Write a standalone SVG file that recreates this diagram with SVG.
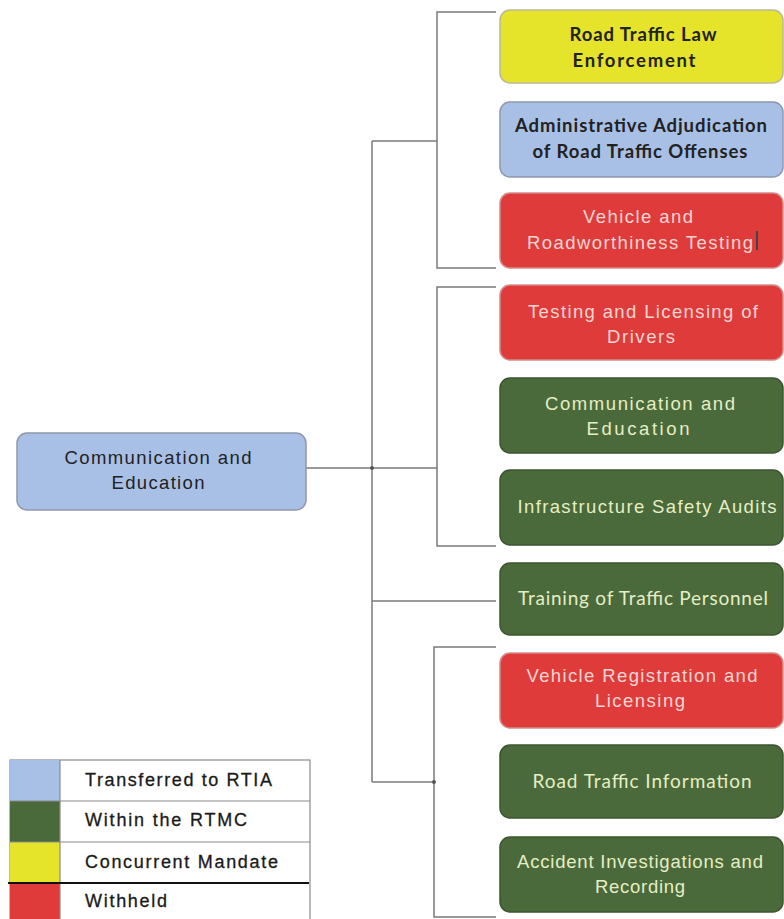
<svg xmlns="http://www.w3.org/2000/svg" width="784" height="919" viewBox="0 0 784 919">
  <style>
    .conn { fill: none; stroke: #7a7a7a; stroke-width: 1.5; }
    .dot { fill: #555; }
    .box { stroke-width: 1.5; }
    .yellow { fill: #e6e42a; stroke: #b9b99a; }
    .blue { fill: #a9c0e6; stroke: #8d98ad; }
    .red { fill: #e03b3b; stroke: #d58a8a; }
    .green { fill: #4a6a3b; stroke: #3c5530; }
    .t { font-family: "Liberation Sans", Arial, sans-serif; font-size: 18.5px; text-anchor: middle; }
    .h { font-family: Lato, "Open Sans", sans-serif; font-size: 18.5px; font-weight: bold; text-anchor: middle; }
    .hn { font-family: Lato, "Open Sans", sans-serif; font-size: 19px; font-weight: normal; text-anchor: middle; }
    .dark { fill: #222; }
    .onred { fill: #f6d6d2; }
    .ongreen { fill: #e6eec4; }
    .leg { font-family: "Liberation Sans", Arial, sans-serif; font-size: 18px; fill: #1a1a1a; stroke: #1a1a1a; stroke-width: 0.3; }
  </style>

  <!-- connectors -->
  <g id="connectors">
    <path class="conn" d="M306,468 H372"/>
    <path class="conn" d="M372,141 V782"/>
    <path class="conn" d="M372,141 H437"/>
    <path class="conn" d="M496,12 H437 V268 H496"/>
    <path class="conn" d="M372,468 H437"/>
    <path class="conn" d="M496,287 H437 V546 H496"/>
    <path class="conn" d="M372,601 H496"/>
    <path class="conn" d="M372,782 H434"/>
    <path class="conn" d="M496,647 H434 V917 H496"/>
    <circle class="dot" cx="372" cy="468" r="2"/>
    <circle class="dot" cx="434" cy="782" r="2"/>
  </g>

  <!-- root -->
  <g id="root">
    <rect class="box blue" x="17" y="433" width="289" height="77" rx="10"/>
    <text class="t dark" x="158" y="464" textLength="187" lengthAdjust="spacing">Communication and</text>
    <text class="t dark" x="158" y="489" textLength="93" lengthAdjust="spacing">Education</text>
  </g>

  <g id="law-enforcement">
    <rect class="box yellow" x="500" y="10" width="283" height="73" rx="10"/>
    <text class="h dark" x="643" y="41" textLength="147" lengthAdjust="spacing">Road Traffic Law</text>
    <text class="h dark" x="634" y="67" textLength="123" lengthAdjust="spacing">Enforcement</text>
  </g>

  <g id="adjudication">
    <rect class="box blue" x="500" y="102" width="283" height="75" rx="10"/>
    <text class="h dark" x="641" y="132" textLength="252" lengthAdjust="spacing">Administrative Adjudication</text>
    <text class="h dark" x="640" y="158" textLength="215" lengthAdjust="spacing">of  Road Traffic  Offenses</text>
  </g>

  <g id="roadworthiness">
    <rect class="box red" x="500" y="193" width="283" height="75" rx="10"/>
    <text class="t onred" x="638" y="223" textLength="110" lengthAdjust="spacing">Vehicle and</text>
    <text class="t onred" x="640" y="249" textLength="226" lengthAdjust="spacing">Roadworthiness Testing</text>
    <rect x="756" y="231" width="2" height="19" fill="#444"/>
  </g>

  <g id="driver-licensing">
    <rect class="box red" x="500" y="285" width="283" height="75" rx="10"/>
    <text class="t onred" x="643" y="318" textLength="230" lengthAdjust="spacing">Testing and Licensing of</text>
    <text class="t onred" x="641" y="343" textLength="68" lengthAdjust="spacing">Drivers</text>
  </g>

  <g id="communication">
    <rect class="box green" x="500" y="378" width="283" height="75" rx="10"/>
    <text class="t ongreen" x="640" y="410" textLength="190" lengthAdjust="spacing">Communication and</text>
    <text class="t ongreen" x="638" y="435" textLength="103" lengthAdjust="spacing">Education</text>
  </g>

  <g id="safety-audits">
    <rect class="box green" x="500" y="470" width="283" height="75" rx="10"/>
    <text class="t ongreen" x="647" y="513" textLength="259" lengthAdjust="spacing">Infrastructure Safety Audits</text>
  </g>

  <g id="personnel-training">
    <rect class="box green" x="500" y="563" width="283" height="72" rx="10"/>
    <text class="hn ongreen" x="643" y="605" textLength="250" lengthAdjust="spacing">Training of Traffic Personnel</text>
  </g>

  <g id="vehicle-registration">
    <rect class="box red" x="500" y="653" width="283" height="75" rx="10"/>
    <text class="t onred" x="642" y="682" textLength="231" lengthAdjust="spacing">Vehicle Registration and</text>
    <text class="t onred" x="640" y="707" textLength="90" lengthAdjust="spacing">Licensing</text>
  </g>

  <g id="traffic-information">
    <rect class="box green" x="500" y="745" width="283" height="73" rx="10"/>
    <text class="hn ongreen" x="642" y="788" textLength="219" lengthAdjust="spacing">Road Traffic Information</text>
  </g>

  <g id="accident-investigations">
    <rect class="box green" x="500" y="837" width="283" height="75" rx="10"/>
    <text class="t ongreen" x="640" y="868" textLength="246" lengthAdjust="spacing">Accident Investigations and</text>
    <text class="t ongreen" x="640" y="893" textLength="90" lengthAdjust="spacing">Recording</text>
  </g>

  <!-- legend -->
  <g id="legend">
    <rect x="10" y="760" width="300" height="165" fill="#fff" stroke="#8a8a8a" stroke-width="1.2"/>
    <rect x="10" y="760" width="50" height="41" fill="#a9c0e6"/>
    <rect x="10" y="801" width="50" height="41" fill="#4a6a3b"/>
    <rect x="10" y="842" width="50" height="41" fill="#e6e42a"/>
    <rect x="10" y="883" width="50" height="40" fill="#e03b3b"/>
    <path d="M60,760 V919 M10,801 H310 M10,842 H310" fill="none" stroke="#8a8a8a" stroke-width="1.2"/>
    <path d="M8,883 H309" fill="none" stroke="#111" stroke-width="2"/>
    <text class="leg" x="85" y="786" textLength="187" lengthAdjust="spacing">Transferred to RTIA</text>
    <text class="leg" x="85" y="826" textLength="162" lengthAdjust="spacing">Within the RTMC</text>
    <text class="leg" x="85" y="868" textLength="193" lengthAdjust="spacing">Concurrent Mandate</text>
    <text class="leg" x="85" y="907" textLength="82" lengthAdjust="spacing">Withheld</text>
  </g>
</svg>
